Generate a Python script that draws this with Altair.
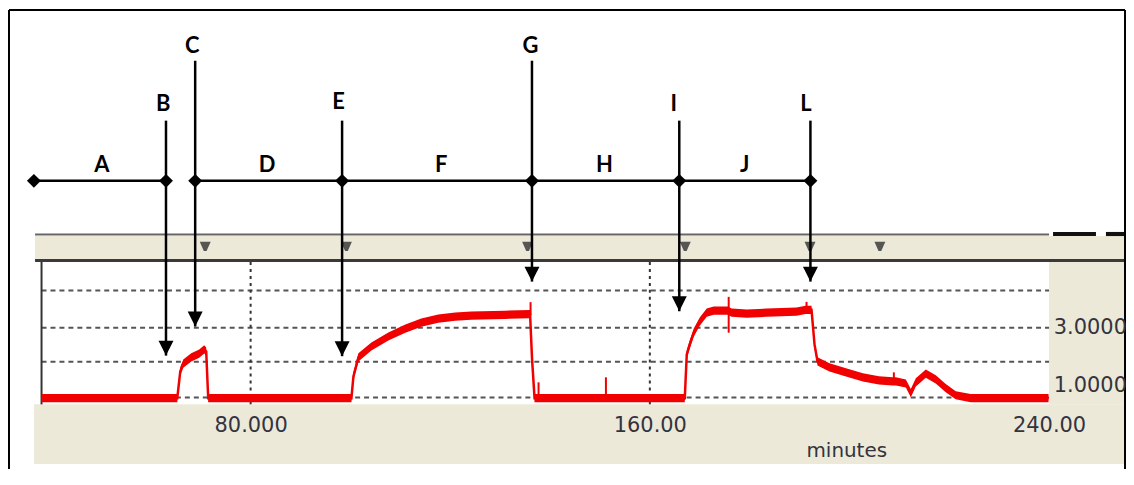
import altair as alt
import pandas as pd

# ---------------- signal trace (time in minutes, detector response) ----------------
sig_min = [38.1, 65.3, 65.9, 66.5, 68.1, 69.7, 70.7, 71.1, 71.5, 100.2,
           100.6, 101.6, 104.2, 107.6, 111.0, 114.2, 117.6, 121.0, 124.2, 130.9,
           136.0, 136.4, 136.9, 151.0, 167.0,
           167.4, 168.0, 168.8, 170.0, 171.4, 172.8, 175.6, 176.4,
           179.4, 183.4, 189.4, 191.2, 192.4, 193.0, 193.6, 196.0, 199.3,
           202.7, 205.9, 208.7, 209.3, 211.3, 212.3, 213.3, 215.3, 217.3,
           219.3, 221.3, 224.3, 239.9]
sig_val = [0.58, 0.58, 1.49, 1.76, 1.97, 2.10, 2.24, 2.17, 0.58, 0.58,
           1.32, 1.97, 2.34, 2.68, 2.95, 3.15, 3.29, 3.36, 3.39, 3.42,
           3.44, 1.90, 0.58, 0.58, 0.58,
           2.07, 2.41, 2.81, 3.19, 3.49, 3.56, 3.56, 3.49,
           3.46, 3.49, 3.53, 3.59, 3.59, 2.41, 1.83, 1.63, 1.46,
           1.29, 1.19, 1.15, 1.15, 1.08, 0.75, 1.12, 1.42, 1.22,
           0.92, 0.68, 0.58, 0.58]
# short noise spikes on the trace
spike_min = [136.1, 137.7, 151.2, 175.8, 191.4, 208.9]
spike_low = [3.40, 0.58, 0.58, 2.81, 3.55, 1.12]
spike_high = [3.85, 1.12, 1.29, 4.03, 3.86, 1.46]

# ---------------- axes ----------------
x_tick_values = [80, 160, 240]
x_tick_labels = ["80.000", "160.00", "240.00"]
y_tick_values = [3, 1]
y_tick_labels = ["3.0000", "1.0000"]
grid_y = [4.25, 2.98, 1.82, 0.60]
grid_x = [80, 160]

# scale extents (minutes / response units)
x_domain = [31.38, 255.42]
y_domain = [-1.83, 13.83]

# software panels (minutes / response units)
plot_x = [38.1, 240.0]
plot_y = [0.37, 5.22]
strip_x = [36.8, 240.0]
strip_y = [5.27, 6.10]
strip_line_y = 6.15
plot_top_y = 5.27
right_x = [240.0, 255.4]
right_y = [0.37, 6.10]
bar_x0 = [240.8, 251.4]
bar_x1 = [249.4, 255.4]
bar_y = [6.10, 6.24]
bottom_x = [36.6, 255.4]
bottom_y = [-1.66, 0.37]
frame_left = 31.58
frame_right = 255.22
frame_top = 13.80

# event markers on the top strip
event_min = [70.9, 99.2, 135.5, 167.1, 192.1, 206.1]
event_val = 5.78

# ---------------- annotations ----------------
arrow_names = ["B", "C", "E", "G", "I", "L"]
arrow_min = [63.04, 68.89, 98.33, 136.38, 165.90, 192.18]
arrow_top = [10.03, 12.07, 10.03, 12.07, 10.03, 10.03]
arrow_tip = [2.03, 3.02, 2.01, 4.55, 3.54, 4.55]
arrow_label_min = [62.5, 68.3, 97.6, 136.1, 164.8, 191.3]
arrow_label_val = [10.58, 12.58, 10.68, 12.58, 10.58, 10.58]

node_min = [36.57, 63.04, 68.89, 98.33, 136.38, 165.90, 192.18]
timeline_val = 7.98
segment_start = [36.57, 68.89]
segment_end = [63.04, 192.18]
phase_names = ["A", "D", "F", "H", "J"]
phase_min = [50.2, 83.3, 118.2, 150.9, 179.0]
phase_val = 8.51

BEIGE = "#ECE9D8"
RED = "#f00000"
BAND = 0.14  # half thickness of the noisy trace band
xs = alt.Scale(domain=x_domain, nice=False, zero=False)
ys = alt.Scale(domain=y_domain, nice=False, zero=False)


def X(f):
    return alt.X(f, type="quantitative", scale=xs, axis=None)


def Y(f):
    return alt.Y(f, type="quantitative", scale=ys, axis=None)


# panels
rects = pd.DataFrame({
    "x0": [strip_x[0], right_x[0], bottom_x[0]] + bar_x0,
    "x1": [strip_x[1], right_x[1], bottom_x[1]] + bar_x1,
    "y0": [strip_y[0], right_y[0], bottom_y[0], bar_y[0], bar_y[0]],
    "y1": [strip_y[1], right_y[1], bottom_y[1], bar_y[1], bar_y[1]],
    "kind": ["beige", "beige", "beige", "black", "black"],
})
panel_layer = alt.Chart(rects).mark_rect(strokeWidth=0).encode(
    x=X("x0"), x2="x1", y=Y("y0"), y2="y1",
    color=alt.Color("kind:N", scale=alt.Scale(domain=["beige", "black"], range=[BEIGE, "#111111"]), legend=None),
)

strip_line = alt.Chart(pd.DataFrame({"x0": [strip_x[0]], "x1": [strip_x[1]], "y": [strip_line_y]})).mark_rule(
    color="#666666", strokeWidth=2).encode(x=X("x0"), x2="x1", y=Y("y"))
top_border = alt.Chart(pd.DataFrame({"x0": [strip_x[0]], "x1": [right_x[1]], "y": [plot_top_y]})).mark_rule(
    color="#3a3a3a", strokeWidth=3).encode(x=X("x0"), x2="x1", y=Y("y"))
left_border = alt.Chart(pd.DataFrame({"x": [plot_x[0]], "y0": [plot_y[0]], "y1": [plot_y[1]]})).mark_rule(
    color="#333333", strokeWidth=2).encode(x=X("x"), y=Y("y0"), y2="y1")

hgrid = alt.Chart(pd.DataFrame({"y": grid_y, "x0": plot_x[0], "x1": plot_x[1]})).mark_rule(
    color="#555555", strokeWidth=2, strokeDash=[5, 4]).encode(x=X("x0"), x2="x1", y=Y("y"))
vgrid = alt.Chart(pd.DataFrame({"x": grid_x, "y0": plot_y[0], "y1": plot_y[1]})).mark_rule(
    color="#333333", strokeWidth=2, strokeDash=[3, 4]).encode(x=X("x"), y=Y("y0"), y2="y1")

x_label_expr = "{" + ", ".join(f"'{v}': '{l}'" for v, l in zip(x_tick_values, x_tick_labels)) + "}[''+datum.value]"
y_label_expr = "{" + ", ".join(f"'{v}': '{l}'" for v, l in zip(y_tick_values, y_tick_labels)) + "}[''+datum.value]"

sig_df = pd.DataFrame({"minutes": sig_min, "value": sig_val})
sig_df["lo"] = sig_df["value"] - BAND
sig_df["hi"] = sig_df["value"] + BAND

axis_layer = alt.Chart(sig_df).mark_line(opacity=0).encode(
    x=alt.X("minutes:Q", scale=xs, axis=alt.Axis(
        orient="bottom", offset=-65, values=x_tick_values, labelExpr=x_label_expr, zindex=2,
        domain=False, ticks=False, grid=False, labelPadding=10,
        labelFont="DejaVu Sans", labelFontSize=21, labelColor="#333340",
        title="minutes", titleFont="DejaVu Sans", titleFontSize=20, titleFontWeight="normal",
        titleColor="#333340", titleX=842, titleY=46, titleBaseline="middle", titleAlign="center")),
    y=alt.Y("value:Q", scale=ys, axis=alt.Axis(
        orient="right", offset=-78, values=y_tick_values, labelExpr=y_label_expr, zindex=2,
        domain=False, ticks=False, grid=False, labelPadding=5, labelAlign="left",
        labelFont="DejaVu Sans", labelFontSize=21, labelColor="#333340", title=None)),
)

sig_band = alt.Chart(sig_df).mark_area(color=RED, opacity=1).encode(
    x=X("minutes"), y=Y("lo"), y2="hi")
sig_line = alt.Chart(sig_df).mark_line(color=RED, strokeWidth=2.5).encode(
    x=X("minutes"), y=Y("value"))
spikes = alt.Chart(pd.DataFrame({"x": spike_min, "lo": spike_low, "hi": spike_high})).mark_rule(
    color=RED, strokeWidth=2).encode(x=X("x"), y=Y("lo"), y2="hi")

events = alt.Chart(pd.DataFrame({"x": event_min, "y": event_val})).mark_point(
    shape="M-1,-0.7L1,-0.7L0.25,1L-0.25,1Z", size=120, filled=True, color="#454545", opacity=0.9).encode(
    x=X("x"), y=Y("y"))

# frame
frame_v = alt.Chart(pd.DataFrame({"x": [frame_left, frame_right], "y0": y_domain[0], "y1": frame_top})).mark_rule(
    color="black", strokeWidth=2).encode(x=X("x"), y=Y("y0"), y2="y1")
frame_h = alt.Chart(pd.DataFrame({"x0": [frame_left], "x1": [frame_right], "y": [frame_top]})).mark_rule(
    color="black", strokeWidth=2).encode(x=X("x0"), x2="x1", y=Y("y"))

# annotation timeline
timeline = alt.Chart(pd.DataFrame({"x0": segment_start, "x1": segment_end, "y": timeline_val})).mark_rule(
    color="black", strokeWidth=2.5).encode(x=X("x0"), x2="x1", y=Y("y"))
arrows_df = pd.DataFrame({"name": arrow_names, "x": arrow_min, "top": arrow_top, "tip": arrow_tip,
                          "lx": arrow_label_min, "ly": arrow_label_val})
arrow_lines = alt.Chart(arrows_df).mark_rule(color="black", strokeWidth=2.5).encode(
    x=X("x"), y=Y("top"), y2="tip")
arrow_heads = alt.Chart(arrows_df).mark_point(
    shape="M-1,-2L1,-2L0,0Z", size=225, filled=True, color="black", opacity=1).encode(
    x=X("x"), y=Y("tip"))
arrow_text = alt.Chart(arrows_df).mark_text(
    font="Lato", fontWeight="bold", fontSize=22, color="black", baseline="middle", align="center").encode(
    x=X("lx"), y=Y("ly"), text="name:N")
nodes = alt.Chart(pd.DataFrame({"x": node_min, "y": timeline_val})).mark_point(
    shape="diamond", size=196, filled=True, color="black", opacity=1).encode(x=X("x"), y=Y("y"))
phase_text = alt.Chart(pd.DataFrame({"name": phase_names, "x": phase_min, "y": phase_val})).mark_text(
    font="Lato", fontWeight="bold", fontSize=22, color="black", baseline="middle", align="center").encode(
    x=X("x"), y=Y("y"), text="name:N")

chart = alt.layer(
    panel_layer, axis_layer, strip_line, top_border, hgrid, vgrid, left_border,
    sig_band, sig_line, spikes, events,
    frame_v, frame_h, timeline, arrow_lines, arrow_heads, nodes, arrow_text, phase_text,
).resolve_axis(x="independent", y="independent").properties(
    width=1123, height=462, padding=0, background="white",
    autosize=alt.AutoSizeParams(type="none"),
).configure_view(strokeWidth=0)

chart.save("out.html", embed_options={"renderer": "svg", "actions": False})
